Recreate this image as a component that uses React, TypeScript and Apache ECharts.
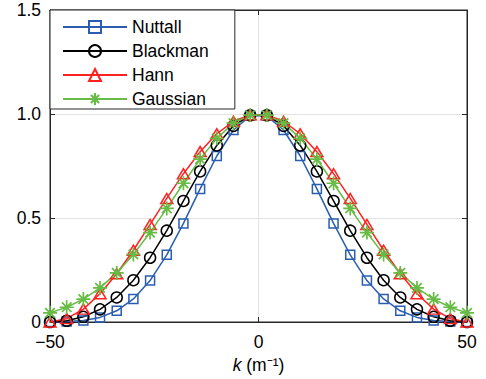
import React, { useEffect, useRef } from "react";
import * as echarts from "echarts";

const kValues = [
  -50, -46, -42, -38, -34, -30, -26, -22, -18, -14, -10, -6, -2,
  2, 6, 10, 14, 18, 22, 26, 30, 34, 38, 42, 46, 50,
];
const nuttallHalf = [0.0004, 0.002, 0.007, 0.022, 0.054, 0.111, 0.199, 0.323, 0.474, 0.640, 0.798, 0.923, 0.991];
const blackmanHalf = [0.0, 0.006, 0.025, 0.061, 0.118, 0.201, 0.309, 0.439, 0.582, 0.724, 0.849, 0.943, 0.994];
const hannHalf = [0.0, 0.016, 0.062, 0.136, 0.232, 0.345, 0.469, 0.594, 0.713, 0.819, 0.905, 0.965, 0.996];
const gaussianHalf = [0.044, 0.071, 0.110, 0.164, 0.236, 0.325, 0.430, 0.546, 0.667, 0.783, 0.883, 0.956, 0.995];

const nuttall = [...nuttallHalf, ...[...nuttallHalf].reverse()];
const blackman = [...blackmanHalf, ...[...blackmanHalf].reverse()];
const hann = [...hannHalf, ...[...hannHalf].reverse()];
const gaussian = [...gaussianHalf, ...[...gaussianHalf].reverse()];

const xTicks = [-50, 0, 50];
const yTicks = [0, 0.5, 1.0, 1.5];

const FONT = "Liberation Sans, Arial, Helvetica, sans-serif";
const AXIS = "#262626";
const GRID = "#e3e3e3";
const FS = 17.5;

const ASTERISK = "path://M5,0L5,10M0,5L10,5M1.6,1.6L8.4,8.4M1.6,8.4L8.4,1.6";

function pairs(vals: number[]) {
  return kValues.map((k, i) => [k, vals[i]]);
}

export default function App() {
  const ref = useRef<HTMLDivElement>(null);
  useEffect(() => {
    if (!ref.current) return;
    const chart = echarts.init(ref.current, null, { renderer: "svg" });
    const mk = (name: string, data: number[], color: string, symbol: string, size: any, bw = 1.5) => ({
      name,
      type: "line",
      data: pairs(data),
      symbol,
      symbolSize: size,
      symbolKeepAspect: true,
      showSymbol: true,
      lineStyle: { color, width: 1.5 },
      itemStyle: { color: "none", borderColor: color, borderWidth: bw },
      emphasis: { disabled: true },
      z: 3,
    });
    chart.setOption({
      animation: false,
      grid: {
        left: 50,
        right: 19,
        top: 10,
        bottom: 57,
        show: true,
        borderColor: AXIS,
        borderWidth: 1,
        backgroundColor: "#fff",
      },
      legend: {
        left: 50,
        top: 10,
        orient: "vertical",
        itemWidth: 64,
        itemHeight: 15,
        itemGap: 6,
        padding: [8, 26, 1, 12],
        borderColor: AXIS,
        borderWidth: 1,
        backgroundColor: "#fff",
        textStyle: { fontFamily: FONT, fontSize: FS, color: "#000" },
        data: ["Nuttall", "Blackman", "Hann", "Gaussian"],
        z: 10,
      },
      xAxis: [
        {
          type: "value",
          min: xTicks[0],
          max: xTicks[xTicks.length - 1],
          interval: 50,
          name: "{i|k} (m⁻¹)",
          nameLocation: "middle",
          nameGap: 34,
          nameTextStyle: {
            fontFamily: FONT,
            fontSize: FS,
            color: "#000",
            rich: { i: { fontStyle: "italic", fontFamily: FONT, fontSize: FS, color: "#000" } },
          },
          axisLine: { show: true, onZero: false, lineStyle: { color: AXIS, width: 1 } },
          axisTick: { show: true, inside: true, length: 5, lineStyle: { color: AXIS } },
          axisLabel: {
            margin: 11,
            fontFamily: FONT,
            fontSize: FS,
            color: "#000",
            formatter: (v: number) => String(v).replace("-", "−"),
          },
          splitLine: { show: true, lineStyle: { color: GRID, width: 1 } },
        },
        {
          type: "value",
          position: "top",
          min: -50,
          max: 50,
          interval: 50,
          axisLine: { show: true, onZero: false, lineStyle: { color: AXIS, width: 1 } },
          axisTick: { show: true, inside: true, length: 5, lineStyle: { color: AXIS } },
          axisLabel: { show: false },
          splitLine: { show: false },
        },
      ],
      yAxis: [
        {
          type: "value",
          min: yTicks[0],
          max: yTicks[yTicks.length - 1],
          interval: 0.5,
          axisLine: { show: true, onZero: false, lineStyle: { color: AXIS, width: 1 } },
          axisTick: { show: true, inside: true, length: 5, lineStyle: { color: AXIS } },
          axisLabel: {
            margin: 9,
            fontFamily: FONT,
            fontSize: FS,
            color: "#000",
            formatter: (v: number) => (v === 0 ? "0" : v.toFixed(1)),
          },
          splitLine: { show: true, lineStyle: { color: GRID, width: 1 } },
        },
        {
          type: "value",
          position: "right",
          min: 0,
          max: 1.5,
          interval: 0.5,
          axisLine: { show: true, onZero: false, lineStyle: { color: AXIS, width: 1 } },
          axisTick: { show: true, inside: true, length: 5, lineStyle: { color: AXIS } },
          axisLabel: { show: false },
          splitLine: { show: false },
        },
      ],
      series: [
        mk("Nuttall", nuttall, "#2a5db0", "rect", 9),
        mk("Blackman", blackman, "#000000", "circle", 11),
        mk("Hann", hann, "#ff2020", "triangle", [12, 10]),
        mk("Gaussian", gaussian, "#66bb44", ASTERISK, 14, 1.7),
      ],
    });
    return () => chart.dispose();
  }, []);
  return (
    <div
      ref={ref}
      style={{ position: "fixed", left: 0, top: 0, width: 486, height: 379, background: "#fff" }}
    />
  );
}
